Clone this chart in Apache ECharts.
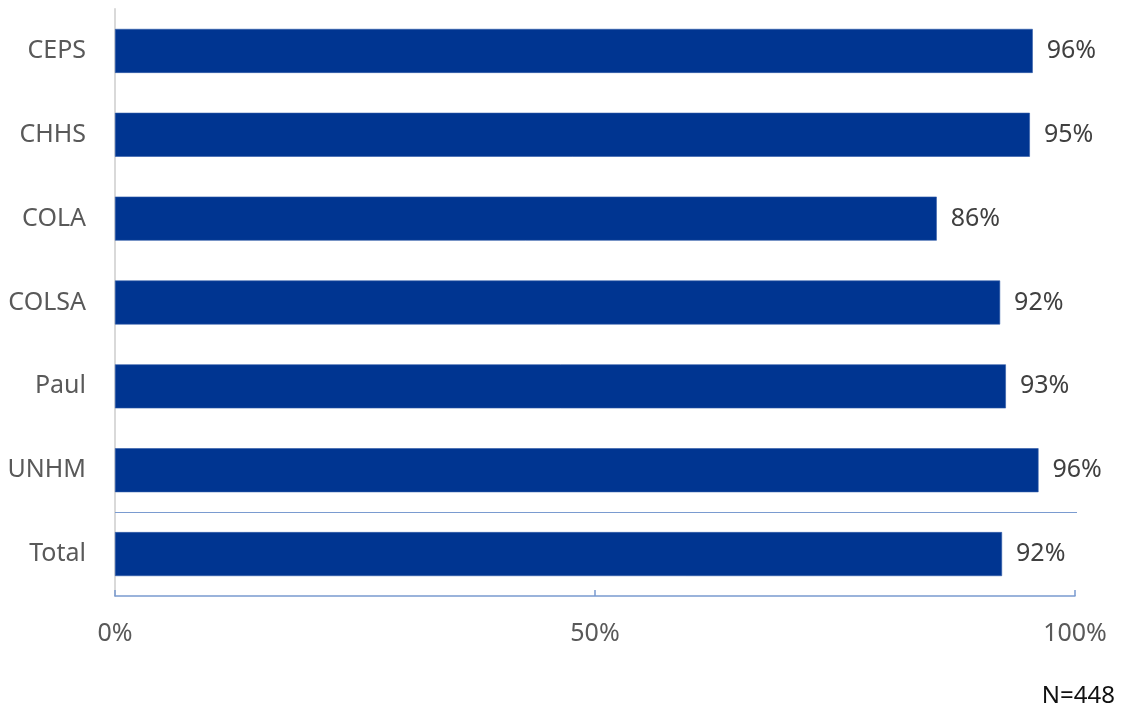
<!DOCTYPE html>
<html>
<head>
<meta charset="utf-8">
<script src="https://cdn.jsdelivr.net/npm/echarts@6/dist/echarts.min.js"></script>
<style>
  html, body { margin: 0; padding: 0; background: #fff; }
  #chart { width: 1125px; height: 708px; }
</style>
</head>
<body>
<div id="chart"></div>
<script>
// Share of respondents by college, with the overall total at the bottom
const categories = ['CEPS', 'CHHS', 'COLA', 'COLSA', 'Paul', 'UNHM', 'Total'];
const shares = [95.6, 95.3, 85.6, 92.2, 92.8, 96.2, 92.4];
const axisTicks = [0, 50, 100];
const sampleNote = 'N=448';

const FONT = '"Noto Sans", sans-serif';
const LINE_BLUE = '#7a9bd0';
const chart = echarts.init(document.getElementById('chart'));

chart.setOption({
  animation: false,
  textStyle: { fontFamily: FONT },
  title: {
    text: sampleNote,
    right: 10,
    bottom: 0,
    padding: 0,
    textStyle: { fontFamily: FONT, fontSize: 24, fontWeight: 'normal', color: '#111' }
  },
  grid: { left: 115, right: 50, top: 9, bottom: 112, containLabel: false },
  xAxis: {
    type: 'value',
    min: axisTicks[0],
    max: axisTicks[axisTicks.length - 1],
    interval: axisTicks[1] - axisTicks[0],
    axisLine: { show: true, lineStyle: { color: LINE_BLUE, width: 1.5 } },
    axisTick: { show: true, inside: true, length: 6, lineStyle: { color: LINE_BLUE, width: 1.5 } },
    splitLine: { show: false },
    axisLabel: {
      margin: 25,
      fontSize: 25,
      color: '#595959',
      fontFamily: FONT,
      formatter: v => v + '%'
    }
  },
  yAxis: {
    type: 'category',
    data: categories,
    inverse: true,
    axisLine: { show: true, lineStyle: { color: '#d9d9d9', width: 2 } },
    axisTick: { show: false },
    axisLabel: { margin: 29, fontSize: 25, color: '#595959', fontFamily: FONT },
    splitLine: { show: false }
  },
  series: [{
    type: 'bar',
    data: shares,
    barWidth: 44,
    itemStyle: { color: '#003591', borderColor: '#2f5aa8', borderWidth: 0.6 },
    label: {
      show: true,
      position: 'right',
      distance: 14,
      fontSize: 25,
      color: '#404040',
      fontFamily: FONT,
      formatter: p => Math.round(p.value) + '%'
    }
  }]
});

// Divider between the college rows and the total row, placed halfway
// between the last college and "Total" on the category axis.
const last = categories.length - 1;
const yPrev = chart.convertToPixel({ yAxisIndex: 0 }, categories[last - 1]);
const yLast = chart.convertToPixel({ yAxisIndex: 0 }, categories[last]);
const yDiv = Math.round((yPrev + yLast) / 2) + 0.5;
const x0 = chart.convertToPixel({ xAxisIndex: 0 }, axisTicks[0]);
const x1 = chart.convertToPixel({ xAxisIndex: 0 }, axisTicks[axisTicks.length - 1]);
chart.setOption({
  graphic: [{
    type: 'line',
    shape: { x1: x0, y1: yDiv, x2: x1 + 2, y2: yDiv },
    style: { stroke: LINE_BLUE, lineWidth: 1.2 },
    z: 10
  }]
});
</script>
</body>
</html>
